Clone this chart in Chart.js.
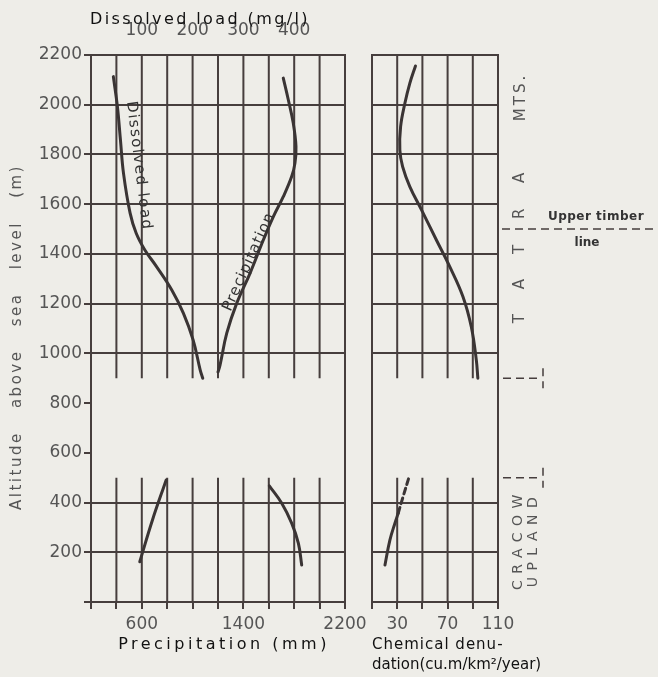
<!DOCTYPE html>
<html>
<head>
<meta charset="utf-8">
<script src="https://cdn.jsdelivr.net/npm/chart.js@4.4.1/dist/chart.umd.min.js"></script>
<style>
  html, body { margin: 0; padding: 0; background: #eeede8; }
  #wrap { position: relative; width: 658px; height: 677px; }
  canvas { position: absolute; left: 0; top: 0; }
</style>
</head>
<body>
<div id="wrap">
  <canvas id="leftChart" width="658" height="677"></canvas>
  <canvas id="rightChart" width="658" height="677"></canvas>
</div>
<script>
// tick labels shown on the axes
const precipLabels = [600, 1400, 2200];
const loadLabels = [100, 200, 300, 400];
const denudLabels = [30, 70, 110];

// Tatra Mts. (upper curves), altitude in m
const loadAltTatra = [2113, 1992, 1858, 1724, 1564, 1483, 1416, 1349, 1255, 1161, 1054, 933, 900];
const loadTatra = [44, 52, 58, 64, 77, 89, 106, 129, 159, 182, 201, 215, 220];
const precipAltTatra = [2107, 2019, 1925, 1832, 1765, 1711, 1630, 1550, 1456, 1322, 1201, 1081, 953, 925];
const precipTatra = [1714, 1754, 1793, 1814, 1806, 1780, 1714, 1636, 1557, 1452, 1347, 1269, 1216, 1200];
const denudAltTatra = [2156, 2086, 2006, 1912, 1818, 1751, 1671, 1577, 1456, 1349, 1228, 1107, 973, 900];
const denudTatra = [44.5, 40, 36.1, 32.7, 32.1, 34.3, 40, 49.3, 61.1, 71.7, 82.2, 88.8, 92.8, 94];

// Cracow Upland (lower curves)
const loadAltUpland = [162, 330, 491];
const loadUpland = [96, 121, 148];
const precipAltUpland = [467, 397, 317, 236, 149];
const precipUpland = [1604, 1702, 1780, 1833, 1859];
const denudAltUpland = [149, 249, 317, 357];
const denudUpland = [20.3, 24.2, 28.2, 30.8];
const denudAltUplandDashed = [357, 424, 504];
const denudUplandDashed = [30.8, 34.7, 39.5];

// zone limits (m)
const timberLine = 1500;
const gapBand = [500, 900];

const INK = '#463e3d';
const GREY = '#555';
Chart.defaults.font.family = 'DejaVu Sans';

function pts(xs, ys) {
    return xs.map((v, i) => ({ x: v, y: ys[i] }));
}

function curve(label, xs, ys, axis, dashed) {
    return {
        label: label,
        xAxisID: axis,
        data: pts(xs, ys),
        showLine: true,
        borderColor: '#3a3434',
        borderWidth: 3,
        borderDash: dashed ? [6, 4] : [],
        borderCapStyle: 'round',
        pointRadius: 0,
        tension: 0.4,
        fill: false
    };
}

function txt(ctx, text, x, y, o) {
    ctx.save();
    ctx.translate(x, y);
    ctx.rotate((o.angle || 0) * Math.PI / 180);
    ctx.font = o.font;
    ctx.fillStyle = o.color || '#111';
    ctx.textAlign = o.align || 'center';
    ctx.textBaseline = 'middle';
    ctx.letterSpacing = (o.spacing || 0) + 'px';
    ctx.wordSpacing = (o.word || 0) + 'px';
    ctx.fillText(text, 0, 0);
    ctx.restore();
}

function dash(ctx, x1, y1, x2, y2) {
    ctx.save();
    ctx.strokeStyle = INK;
    ctx.lineWidth = 1.5;
    ctx.setLineDash([8, 5]);
    ctx.beginPath();
    ctx.moveTo(x1, y1);
    ctx.lineTo(x2, y2);
    ctx.stroke();
    ctx.restore();
}

// vertical grid lines are interrupted between the two regions
const brokenGrid = {
    id: 'brokenGrid',
    beforeDatasetsDraw(chart) {
        const { ctx, chartArea: a, scales } = chart;
        const x = scales.x, y = scales.y;
        const lowTop = y.getPixelForValue(gapBand[0]);
        const highBottom = y.getPixelForValue(gapBand[1]);
        ctx.save();
        ctx.strokeStyle = INK;
        ctx.lineWidth = 2;
        x.ticks.forEach(t => {
            const px = x.getPixelForValue(t.value);
            if (px <= a.left + 1 || px >= a.right - 1) return;
            ctx.beginPath();
            ctx.moveTo(px, a.bottom);
            ctx.lineTo(px, lowTop);
            ctx.moveTo(px, highBottom);
            ctx.lineTo(px, a.top);
            ctx.stroke();
        });
        ctx.strokeRect(a.left, a.top, a.width, a.height);
        ctx.restore();
    }
};

function yAxis(showLabels) {
    return {
        min: 0,
        max: 2200,
        ticks: {
            stepSize: 200,
            display: showLabels,
            color: GREY,
            font: { size: 17 },
            padding: 2,
            callback: v => (v === 0 ? '' : v)
        },
        grid: {
            color: c => (c.tick.value > gapBand[0] && c.tick.value < gapBand[1]) ? 'transparent' : INK,
            tickColor: INK,
            lineWidth: 2,
            drawTicks: showLabels,
            tickLength: 7
        },
        border: { color: INK, width: 2 },
        afterFit: s => { s.width = showLabels ? 91 : 0; }
    };
}

function bottomAxis(min, max, step, labels) {
    return {
        type: 'linear',
        position: 'bottom',
        min: min,
        max: max,
        ticks: {
            stepSize: step,
            autoSkip: false,
            maxRotation: 0,
            color: GREY,
            font: { size: 17 },
            padding: 5,
            callback: v => (labels.includes(v) ? v : '')
        },
        grid: { color: 'transparent', tickColor: INK, lineWidth: 2, tickLength: 7 },
        border: { color: INK, width: 2 },
        afterFit: s => { s.height = 75; }
    };
}

const leftText = {
    id: 'leftText',
    afterDraw(chart) {
        const { ctx, scales } = chart;
        txt(ctx, 'Dissolved load (mg/l)', 200, 20, { font: '16px DejaVu Sans', spacing: 2.4 });
        txt(ctx, 'Precipitation (mm)', 224, 645, { font: '16px DejaVu Sans', spacing: 3.5 });
        txt(ctx, 'Altitude above sea level (m)', 17, 337,
            { font: '15px DejaVu Sans', color: GREY, angle: -90, spacing: 2.5, word: 16 });
        txt(ctx, 'Dissolved load', scales.x2.getPixelForValue(94), scales.y.getPixelForValue(1754),
            { font: '15px DejaVu Sans', color: '#333', angle: 83, spacing: 1.5 });
        txt(ctx, 'Precipitation', scales.x.getPixelForValue(1444), scales.y.getPixelForValue(1368),
            { font: '15px DejaVu Sans', color: '#333', angle: -65.5, spacing: 1 });
    }
};

new Chart(document.getElementById('leftChart'), {
    type: 'scatter',
    data: {
        datasets: [
            curve('Dissolved load', loadTatra, loadAltTatra, 'x2'),
            curve('Dissolved load (Cracow Upland)', loadUpland, loadAltUpland, 'x2'),
            curve('Precipitation', precipTatra, precipAltTatra, 'x'),
            curve('Precipitation (Cracow Upland)', precipUpland, precipAltUpland, 'x')
        ]
    },
    options: {
        responsive: false,
        animation: false,
        devicePixelRatio: 1,
        layout: { padding: { left: 0, right: 313, top: 0, bottom: 0 } },
        plugins: { legend: { display: false }, tooltip: { enabled: false } },
        scales: {
            x: bottomAxis(200, 2200, 200, precipLabels),
            x2: {
                type: 'linear',
                position: 'top',
                min: 0,
                max: 500,
                ticks: {
                    stepSize: 50,
                    autoSkip: false,
                    maxRotation: 0,
                    color: GREY,
                    font: { size: 17 },
                    padding: 6,
                    callback: v => (loadLabels.includes(v) ? v : '')
                },
                grid: { display: false },
                border: { display: false },
                afterFit: s => { s.height = 55; }
            },
            y: yAxis(true)
        }
    },
    plugins: [brokenGrid, leftText]
});

const rightText = {
    id: 'rightText',
    afterDraw(chart) {
        const { ctx, chartArea: a, scales } = chart;
        const y = scales.y;
        txt(ctx, 'Chemical denu-', a.left, 645, { font: '15px DejaVu Sans', align: 'left', spacing: 1 });
        txt(ctx, 'dation(cu.m/km²/year)', a.left, 665, { font: '15px DejaVu Sans', align: 'left' });

        txt(ctx, 'MTS.', 521, 97, { font: '15px DejaVu Sans', color: GREY, angle: -90, spacing: 3 });
        txt(ctx, 'TATRA', 520, 235, { font: '15px DejaVu Sans', color: GREY, angle: -90, spacing: 26 });

        const yt = y.getPixelForValue(timberLine);
        dash(ctx, a.right + 4, yt, 658, yt);
        txt(ctx, 'Upper timber', 596, yt - 12, { font: 'bold 12px DejaVu Sans', color: '#333', spacing: 0.5 });
        txt(ctx, 'line', 587, yt + 14, { font: 'bold 12px DejaVu Sans', color: '#333' });

        txt(ctx, 'CRACOW', 518, 539, { font: '14px DejaVu Sans', color: GREY, angle: -90, spacing: 6.5 });
        txt(ctx, 'UPLAND', 533, 539, { font: '14px DejaVu Sans', color: GREY, angle: -90, spacing: 6.5 });

        gapBand.forEach(v => {
            const py = y.getPixelForValue(v);
            dash(ctx, a.right + 5, py, a.right + 40, py);
            dash(ctx, a.right + 45, py - 10, a.right + 45, py + 10);
        });
    }
};

new Chart(document.getElementById('rightChart'), {
    type: 'scatter',
    data: {
        datasets: [
            curve('Chemical denudation', denudTatra, denudAltTatra, 'x'),
            curve('Chemical denudation (Cracow Upland)', denudUpland, denudAltUpland, 'x'),
            curve('Chemical denudation (uncertain)', denudUplandDashed, denudAltUplandDashed, 'x', true)
        ]
    },
    options: {
        responsive: false,
        animation: false,
        devicePixelRatio: 1,
        layout: { padding: { left: 372, right: 160, top: 55, bottom: 0 } },
        plugins: { legend: { display: false }, tooltip: { enabled: false } },
        scales: {
            x: bottomAxis(10, 110, 20, denudLabels),
            y: yAxis(false)
        }
    },
    plugins: [brokenGrid, rightText]
});
</script>
</body>
</html>
